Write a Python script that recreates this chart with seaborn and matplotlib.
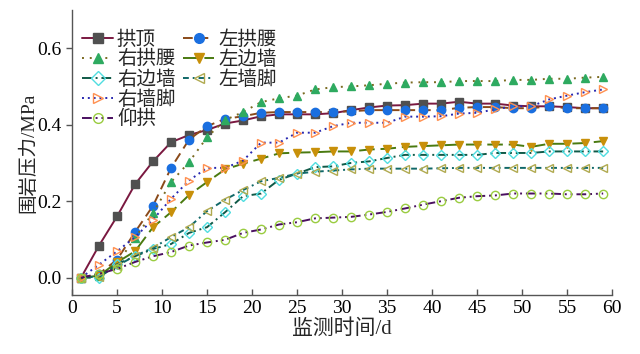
import numpy as np
import pandas as pd
import matplotlib
matplotlib.use('Agg')
import matplotlib.pyplot as plt
from matplotlib.lines import Line2D
import seaborn as sns

# monitoring days
days = list(range(1, 60, 2))

gongding = [0, 0.084, 0.16, 0.244, 0.304, 0.354, 0.373, 0.386, 0.403, 0.411, 0.422, 0.427, 0.427, 0.427, 0.43,
            0.438, 0.445, 0.45, 0.451, 0.455, 0.455, 0.46, 0.455, 0.455, 0.45, 0.448, 0.448, 0.446, 0.443, 0.443]
zuo_gongyao = [0, 0.01, 0.047, 0.119, 0.188, 0.287, 0.361, 0.396, 0.415, 0.422, 0.431, 0.433, 0.433, 0.433, 0.433,
               0.435, 0.438, 0.438, 0.438, 0.438, 0.438, 0.444, 0.446, 0.446, 0.443, 0.443, 0.448, 0.443, 0.443, 0.443]
you_gongyao = [0, 0.005, 0.035, 0.105, 0.169, 0.25, 0.302, 0.367, 0.412, 0.433, 0.459, 0.469, 0.476, 0.492, 0.498,
               0.50, 0.503, 0.507, 0.51, 0.511, 0.511, 0.514, 0.514, 0.514, 0.517, 0.517, 0.52, 0.52, 0.523, 0.525]
zuo_bianqiang = [0, 0.005, 0.04, 0.069, 0.132, 0.171, 0.216, 0.25, 0.283, 0.298, 0.311, 0.325, 0.327, 0.328, 0.330,
                 0.330, 0.335, 0.337, 0.342, 0.344, 0.346, 0.348, 0.348, 0.348, 0.348, 0.342, 0.35, 0.35, 0.352, 0.357]
you_bianqiang = [0, 0.0, 0.035, 0.056, 0.075, 0.088, 0.117, 0.132, 0.171, 0.213, 0.22, 0.256, 0.272, 0.289, 0.291,
                 0.30, 0.304, 0.313, 0.321, 0.321, 0.321, 0.321, 0.321, 0.326, 0.326, 0.326, 0.33, 0.33, 0.33, 0.33]
zuo_qiangjiao = [0, 0.003, 0.031, 0.057, 0.078, 0.106, 0.132, 0.174, 0.204, 0.229, 0.252, 0.261, 0.272, 0.277, 0.28,
                 0.283, 0.285, 0.285, 0.285, 0.285, 0.286, 0.287, 0.287, 0.287, 0.287, 0.287, 0.287, 0.287, 0.287, 0.287]
you_qiangjiao = [0, 0.034, 0.069, 0.106, 0.152, 0.206, 0.254, 0.287, 0.287, 0.306, 0.353, 0.353, 0.379, 0.379, 0.396,
                 0.405, 0.405, 0.405, 0.421, 0.421, 0.422, 0.429, 0.431, 0.44, 0.448, 0.448, 0.466, 0.476, 0.485, 0.492]
yanggong = [0, 0.01, 0.023, 0.041, 0.056, 0.067, 0.084, 0.092, 0.099, 0.117, 0.126, 0.139, 0.145, 0.155, 0.157,
            0.159, 0.165, 0.172, 0.181, 0.191, 0.2, 0.209, 0.213, 0.215, 0.22, 0.22, 0.22, 0.218, 0.218, 0.22]

names = ['拱顶', '左拱腰', '右拱腰', '左边墙', '右边墙', '左墙脚', '右墙脚', '仰拱']
series = [gongding, zuo_gongyao, you_gongyao, zuo_bianqiang, you_bianqiang, zuo_qiangjiao, you_qiangjiao, yanggong]

# line colour, line style, marker, marker face, marker edge
styles = {
    '拱顶': ('#7a1840', '-', 's', '#505050', '#505050'),
    '左拱腰': ('#8a4a1a', (0, (5, 3)), 'o', '#1a6fe0', '#1a6fe0'),
    '右拱腰': ('#7a6a20', (0, (1, 3)), '^', '#2eaa60', '#2eaa60'),
    '左边墙': ('#4a7a10', (0, (8, 3)), 'v', '#c8900a', '#c8900a'),
    '右边墙': ('#105a48', (0, (5, 2, 1, 2)), 'D', 'none', '#50dde0'),
    '左墙脚': ('#106868', (0, (3, 2, 1, 2)), '<', 'none', '#b0aa50'),
    '右墙脚': ('#2828b0', (0, (1, 2)), '>', 'none', '#ff9050'),
    '仰拱': ('#4a1060', (0, (5, 2, 1, 2, 1, 2)), 'o', 'none', '#9acc40'),
}

df = pd.DataFrame({'day': days * len(names),
                   'pressure': sum(series, []),
                   'position': np.repeat(names, len(days))})

sns.set_style('ticks')
plt.rcParams['font.family'] = ['Liberation Serif', 'Noto Sans CJK SC']
plt.rcParams['axes.unicode_minus'] = False

fig = plt.figure(figsize=(6.4, 3.54), dpi=100)
ax = fig.add_axes([0.1125, 0.167, 0.844, 0.805])

handles = {}
for name in names:
    color, ls, mk, mfc, mec = styles[name]
    sub = df[df['position'] == name]
    sns.lineplot(data=sub, x='day', y='pressure', ax=ax, color=color, linestyle=ls, linewidth=1.4,
                 marker=mk, markersize=6 if mk != 'D' else 5, markerfacecolor=mfc, markeredgecolor=mec,
                 markeredgewidth=1.0, legend=False)
    handles[name] = Line2D([], [], color=color, linestyle=ls, linewidth=1.4, marker=mk,
                           markersize=7, markerfacecolor=mfc, markeredgecolor=mec, markeredgewidth=1.0)

# legend is filled row-wise in the reference: 5 rows in col 1, 3 in col 2
blank = Line2D([], [], linestyle='none', marker='none')
order_col1 = ['拱顶', '右拱腰', '右边墙', '右墙脚', '仰拱']
order_col2 = ['左拱腰', '左边墙', '左墙脚']
leg_handles = [handles[n] for n in order_col1] + [handles[n] for n in order_col2] + [blank, blank]
leg_labels = order_col1 + order_col2 + ['', '']
ax.legend(leg_handles, leg_labels, ncol=2, frameon=False, loc='upper left',
          bbox_to_anchor=(82 / 640, 1 - 30 / 354), bbox_transform=fig.transFigure,
          fontsize=14, handlelength=1.6, handletextpad=0.2, columnspacing=0.4, labelspacing=0.08,
          borderpad=0, borderaxespad=0)

ax.set_xlim(0, 60)
ax.set_ylim(-0.045, 0.70)
ax.set_xticks(range(0, 61, 5))
ax.set_yticks([0.0, 0.2, 0.4, 0.6])
ax.set_yticklabels(['0.0', '0.2', '0.4', '0.6'])
ax.tick_params(axis='x', direction='in', labelsize=14, length=4, width=1, colors='#555555', labelcolor='black')
ax.tick_params(axis='y', direction='out', labelsize=14, length=4, width=1, colors='#555555', labelcolor='black')
for s in ['top', 'right']:
    ax.spines[s].set_visible(False)
for s in ['left', 'bottom']:
    ax.spines[s].set_color('#555555')
    ax.spines[s].set_linewidth(1.0)

ax.set_xlabel('监测时间/d', fontsize=15, labelpad=2)
ax.set_ylabel('围岩压力/MPa', fontsize=14, labelpad=0)

fig.savefig('out.png', dpi=100)
